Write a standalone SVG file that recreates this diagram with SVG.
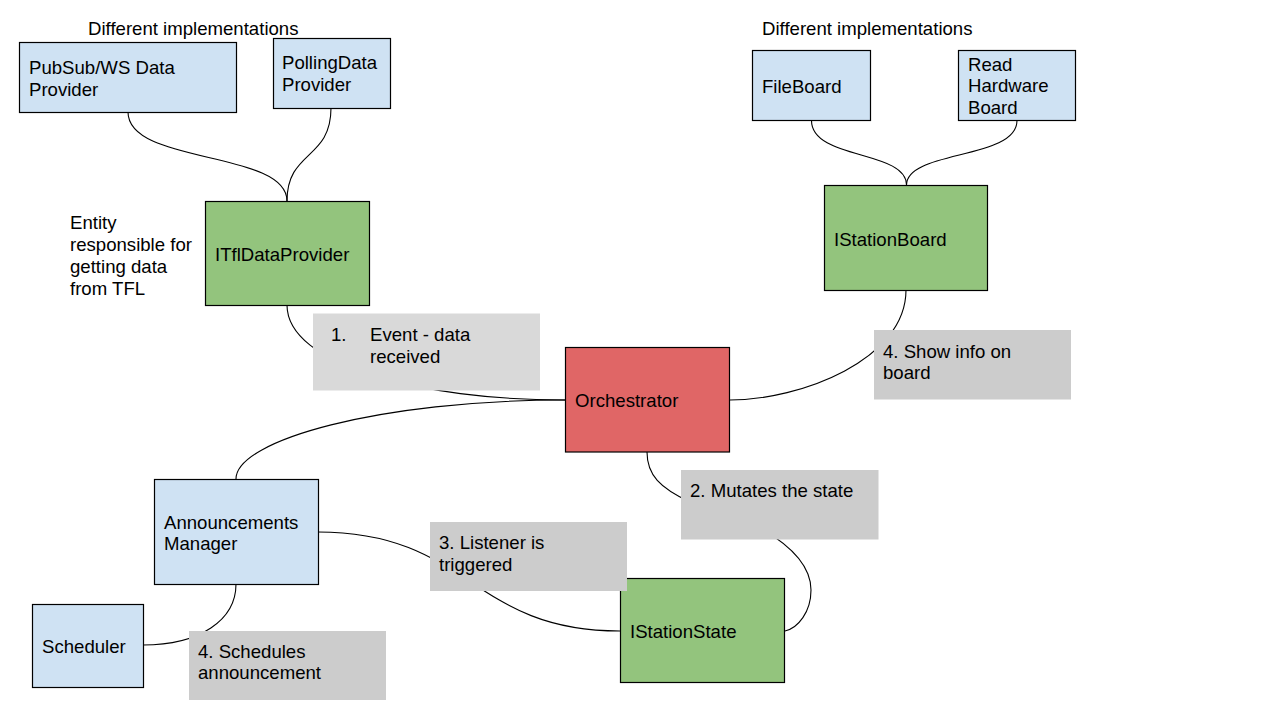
<svg xmlns="http://www.w3.org/2000/svg" width="1266" height="719" viewBox="0 0 1266 719">
<style>
text{font-family:"Liberation Sans",Arial,sans-serif;font-size:18.6px;fill:#000}
.n rect{stroke:#000;stroke-width:1.2}
.blue{fill:#cfe2f3}
.green{fill:#93c47d}
.red{fill:#e06666}
.lbl{fill:#cccccc}
.lbl1{fill:#d9d9d9}
#connectors path{fill:none;stroke:#000;stroke-width:1.1}
</style>
<rect width="1266" height="719" fill="#fff"/>
<g id="connectors">
<path d="M128,112 C128,165 287,150 287,201"/>
<path d="M331,108 C331,160 287,150 287,201"/>
<path d="M811.5,120.5 C811.5,160 906.5,150 906.5,185"/>
<path d="M1017,120.5 C1017,160 906.5,150 906.5,185"/>
<path d="M287,305 C287,365 420,400 565,400"/>
<path d="M906,290 C906,360 800,400 730,400"/>
<path d="M565,400 C380,400 236,440 236,479"/>
<path d="M647,452 C647,475 660,488 690,502 L760,528 C790,545 811,565 811,590 C811,612 798,628 785,631"/>
<path d="M318,532 C470,532 470,631 620,631"/>
<path d="M236,584 C236,620 200,645 143,645"/>
</g>
<g id="note-left"><text x="88" y="35">Different implementations</text></g>
<g id="note-right"><text x="762" y="35">Different implementations</text></g>
<g id="note-entity">
<text x="70" y="229">Entity</text>
<text x="70" y="251">responsible for</text>
<text x="70" y="272.5">getting data</text>
<text x="70" y="294.5">from TFL</text>
</g>
<g id="pubsub" class="n"><rect class="blue" x="19.5" y="42.5" width="217" height="70"/>
<text x="29" y="73.5">PubSub/WS Data</text><text x="29" y="95.5">Provider</text></g>
<g id="polling" class="n"><rect class="blue" x="273.5" y="38.5" width="117" height="70"/>
<text x="282" y="69">PollingData</text><text x="282" y="91">Provider</text></g>
<g id="itfl" class="n"><rect class="green" x="205.5" y="201.5" width="164" height="104"/>
<text x="215" y="261">ITflDataProvider</text></g>
<g id="fileboard" class="n"><rect class="blue" x="752.5" y="50.5" width="118" height="70"/>
<text x="762" y="92.5">FileBoard</text></g>
<g id="readhw" class="n"><rect class="blue" x="958.5" y="50.5" width="117" height="70"/>
<text x="968" y="70.5">Read</text><text x="968" y="92.3">Hardware</text><text x="968" y="114">Board</text></g>
<g id="istationboard" class="n"><rect class="green" x="824.5" y="185.5" width="163" height="105"/>
<text x="834" y="245.5">IStationBoard</text></g>
<g id="orchestrator" class="n"><rect class="red" x="565.5" y="347.5" width="164" height="104.5"/>
<text x="575" y="407.3">Orchestrator</text></g>
<g id="announcements" class="n"><rect class="blue" x="154.5" y="479.5" width="164" height="105"/>
<text x="164" y="528.7">Announcements</text><text x="164" y="550">Manager</text></g>
<g id="scheduler" class="n"><rect class="blue" x="32.5" y="604.5" width="111" height="83"/>
<text x="42" y="652.7">Scheduler</text></g>
<g id="istationstate" class="n"><rect class="green" x="620.5" y="578.5" width="164" height="104"/>
<text x="630" y="637.5">IStationState</text></g>
<g id="label-1"><rect class="lbl1" x="313" y="313.5" width="227" height="77"/>
<text x="331" y="340.7">1.</text><text x="370" y="340.7">Event - data</text><text x="370" y="362.5">received</text></g>
<g id="label-2"><rect class="lbl" x="681" y="470" width="197.5" height="69.5"/>
<text x="690" y="496.7">2. Mutates the state</text></g>
<g id="label-3"><rect class="lbl" x="430" y="522" width="197" height="69"/>
<text x="439" y="549">3. Listener is</text><text x="439" y="570.5">triggered</text></g>
<g id="label-4a"><rect class="lbl" x="874" y="330" width="197" height="69.5"/>
<text x="883" y="357.7">4. Show info on</text><text x="883" y="379.3">board</text></g>
<g id="label-4b"><rect class="lbl" x="189" y="631" width="197" height="69"/>
<text x="198" y="657.7">4. Schedules</text><text x="198" y="679.3">announcement</text></g>
</svg>
